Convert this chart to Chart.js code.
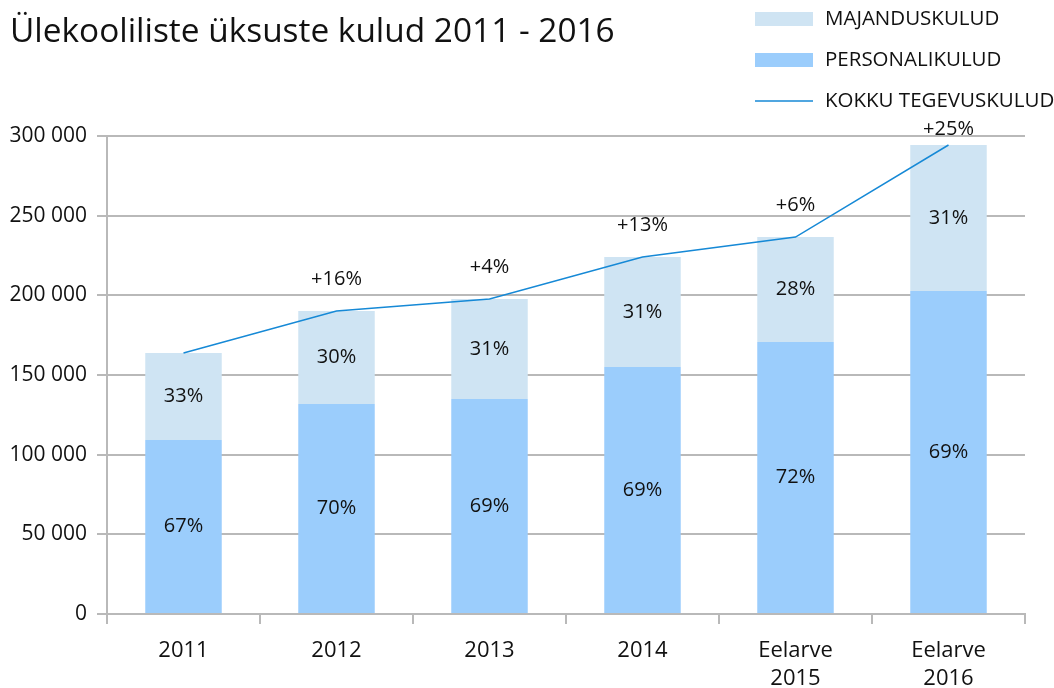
<!DOCTYPE html>
<html>
<head>
<meta charset="utf-8">
<script src="https://cdn.jsdelivr.net/npm/chart.js@4"></script>
<style>
  body { margin: 0; background: #fff; }
</style>
</head>
<body>
<canvas id="myChart" width="1054" height="688"></canvas>
<script>
// data
const categories = ["2011", "2012", "2013", "2014", ["Eelarve", "2015"], ["Eelarve", "2016"]];
const personalikulud = [109200, 131800, 134900, 155000, 170700, 202700];
const majanduskulud = [54600, 58400, 62800, 69100, 65900, 91700];
const kokku = [163800, 190200, 197700, 224100, 236600, 294400];
const personalPct = ["67%", "70%", "69%", "69%", "72%", "69%"];
const majandusPct = ["33%", "30%", "31%", "31%", "28%", "31%"];
const growth = ["", "+16%", "+4%", "+13%", "+6%", "+25%"];

const FONT = "'Open Sans', 'Noto Sans', sans-serif";
const GRID = "#b9b9b9";

function spaced(v) {
  return String(v).replace(/\B(?=(\d{3})+(?!\d))/g, " ");
}

// text inside bars and above the line
const valueLabels = {
  id: "valueLabels",
  afterDatasetsDraw(chart) {
    const ctx = chart.ctx;
    ctx.save();
    ctx.fillStyle = "#111";
    ctx.font = "20px " + FONT;
    ctx.textAlign = "center";
    ctx.textBaseline = "middle";
    chart.data.datasets.forEach((ds, i) => {
      const meta = chart.getDatasetMeta(i);
      meta.data.forEach((el, j) => {
        if (ds.type === "line") {
          if (!ds.labels[j]) return;
          let y = Math.max(el.y - 32, chart.chartArea.top - 7);
          ctx.fillText(ds.labels[j], el.x, y);
        } else {
          ctx.fillText(ds.labels[j], el.x, (el.y + el.base) / 2);
        }
      });
    });
    ctx.restore();
  }
};

// vertical legend in the top right corner
const sideLegend = {
  id: "sideLegend",
  afterDraw(chart) {
    const ctx = chart.ctx;
    const order = [2, 1, 0];
    ctx.save();
    ctx.font = "20.5px " + FONT;
    ctx.textBaseline = "middle";
    ctx.textAlign = "left";
    order.forEach((idx, row) => {
      const ds = chart.data.datasets[idx];
      const y = 19 + row * 41;
      if (ds.type === "line") {
        ctx.strokeStyle = ds.borderColor;
        ctx.lineWidth = ds.borderWidth;
        ctx.beginPath();
        ctx.moveTo(755, y);
        ctx.lineTo(813, y);
        ctx.stroke();
      } else {
        ctx.fillStyle = ds.backgroundColor;
        ctx.fillRect(755, y - 7, 58, 14);
      }
      ctx.fillStyle = "#111";
      ctx.fillText(ds.label, 825, y);
    });
    ctx.restore();
  }
};

const ctx = document.getElementById("myChart").getContext("2d");
const myChart = new Chart(ctx, {
  type: "bar",
  data: {
    labels: categories,
    datasets: [
      {
        type: "line",
        label: "KOKKU TEGEVUSKULUD",
        data: kokku,
        labels: growth,
        stack: "total",
        borderColor: "#1689d6",
        borderWidth: 1.5,
        pointRadius: 0,
        tension: 0,
        order: 0
      },
      {
        label: "PERSONALIKULUD",
        data: personalikulud,
        labels: personalPct,
        stack: "bars",
        backgroundColor: "#9bcdfc",
        order: 1
      },
      {
        label: "MAJANDUSKULUD",
        data: majanduskulud,
        labels: majandusPct,
        stack: "bars",
        backgroundColor: "#cfe4f3",
        order: 1
      }
    ]
  },
  options: {
    responsive: false,
    animation: false,
    categoryPercentage: 1,
    barPercentage: 0.5,
    layout: {
      padding: { left: 10, right: 29, top: 0, bottom: 0 }
    },
    scales: {
      x: {
        stacked: true,
        afterFit: (scale) => { scale.height = 74; },
        grid: {
          offset: true,
          color: (c) => (c.index === categories.length ? GRID : "transparent"),
          tickColor: GRID,
          lineWidth: 2,
          tickLength: 10
        },
        border: { color: GRID, width: 2 },
        ticks: {
          color: "#111",
          padding: 13,
          font: { family: FONT, size: 22, lineHeight: 1.27 },
          maxRotation: 0
        }
      },
      y: {
        stacked: true,
        min: 0,
        max: 300000,
        afterFit: (scale) => { scale.width = 97; },
        grid: {
          color: GRID,
          lineWidth: 2,
          tickLength: 10
        },
        border: { color: GRID, width: 2 },
        ticks: {
          stepSize: 50000,
          color: "#111",
          padding: 10,
          font: { family: FONT, size: 21 },
          callback: (v) => spaced(v)
        }
      }
    },
    plugins: {
      legend: { display: false },
      tooltip: { enabled: false },
      title: {
        display: true,
        text: "Ülekooliliste üksuste kulud 2011 - 2016",
        align: "start",
        color: "#111",
        font: { family: FONT, size: 33.4, weight: "normal" },
        padding: { top: 12, bottom: 84 }
      }
    }
  },
  plugins: [valueLabels, sideLegend]
});
</script>
</body>
</html>
